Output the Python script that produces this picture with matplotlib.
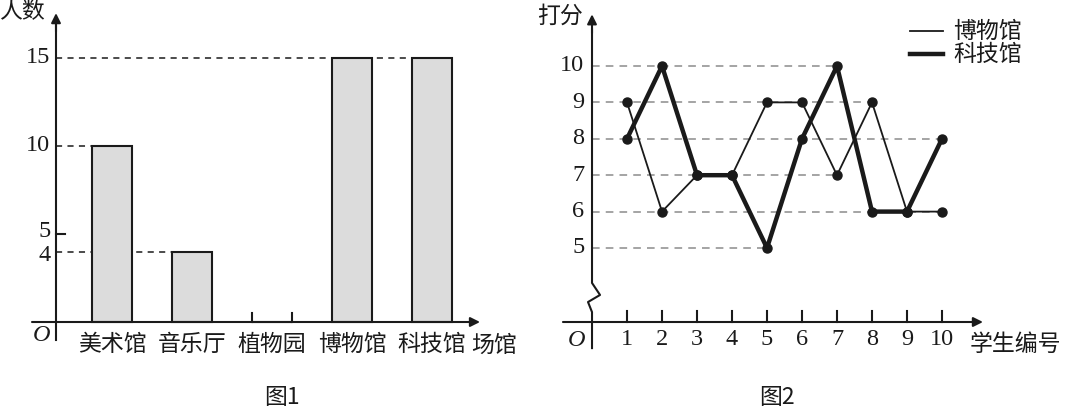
import matplotlib
matplotlib.use("Agg")
import matplotlib.pyplot as plt

plt.rcParams["font.family"] = ["Noto Sans CJK SC", "DejaVu Sans"]

# 图1 data
venues = ["美术馆", "音乐厅", "植物园", "博物馆", "科技馆"]
counts = [10, 4, 0, 15, 15]
count_ticks = [15, 10, 5, 4]

# 图2 data
students = [1, 2, 3, 4, 5, 6, 7, 8, 9, 10]
museum_scores = [9, 6, 7, 7, 9, 9, 7, 9, 6, 6]
tech_scores = [8, 10, 7, 7, 5, 8, 10, 6, 6, 8]
score_ticks = [5, 6, 7, 8, 9, 10]

SERIF = "Liberation Serif"
FS = 16.5      # chinese text
NS = 17.5      # numerals
INK = "#1a1a1a"


def arrow(ax, start, end):
    ax.annotate("", xy=end, xytext=start,
                arrowprops=dict(arrowstyle="-|>", color=INK, lw=1.5,
                                mutation_scale=14, shrinkA=0, shrinkB=0))


fig = plt.figure(figsize=(10.8, 4.09), dpi=100)

# ---------------- 图1 : bar chart ----------------
ax1 = fig.add_axes([0, 0, 0.5, 1])
ax1.set_xlim(-1.4, 5.35)
ax1.set_ylim(-4.943, 18.295)
ax1.axis("off")

bw = 0.5
xs = list(range(len(venues)))
ax1.bar(xs, counts, width=bw, color="#dcdcdc", edgecolor=INK, linewidth=1.5, zorder=3)
# zero-height bar edges (植物园)
for x, c in zip(xs, counts):
    if c == 0:
        ax1.plot([x - bw / 2, x - bw / 2], [0, 0.5], color=INK, lw=1.5)
        ax1.plot([x + bw / 2, x + bw / 2], [0, 0.5], color=INK, lw=1.5)

yax = -0.7
arrow(ax1, (-1.0, 0), (4.6, 0))
ax1.plot([yax, yax], [-1.02, 17.0], color=INK, lw=1.5)
arrow(ax1, (yax, 16.5), (yax, 17.55))

# dashed guide lines to the last bar with that height
for v in sorted(set(c for c in counts if c > 0)):
    last = max(i for i, c in enumerate(counts) if c == v)
    ax1.plot([yax, last - bw / 2], [v, v], color=INK, lw=1.1,
             linestyle=(0, (4, 3.5)), zorder=2)
for v in count_ticks:
    if v not in counts:
        ax1.plot([yax, yax + 0.11], [v, v], color=INK, lw=1.5)

offs = {5: 0.12, 4: -0.2}
for v in count_ticks:
    ax1.text(yax - 0.07, v + offs.get(v, 0), str(v), ha="right", va="center",
             fontsize=NS, family=SERIF, color=INK)

for x, name in zip(xs, venues):
    ax1.text(x, -1.3, name, ha="center", va="center", fontsize=FS, color=INK)
ax1.text(4.78, -1.3, "场馆", ha="center", va="center", fontsize=FS, color=INK)
ax1.text(-0.875, -0.74, "O", ha="center", va="center", fontsize=NS,
         family=SERIF, style="italic", color=INK)
ax1.text(-1.13, 17.62, "人数", ha="center", va="center", fontsize=FS, color=INK)
ax1.text(2.125, -4.3, "图1", ha="center", va="center", fontsize=FS, color=INK)

# ---------------- 图2 : line chart ----------------
ax2 = fig.add_axes([0.5, 0, 0.5, 1])
ax2.set_xlim(-1.486, 13.943)
ax2.set_ylim(0.577, 11.813)
ax2.axis("off")

base = 2.967
arrow(ax2, (-0.83, base), (11.17, base))
# y axis with break
ax2.plot([0, 0, 0.229, -0.114, 0, 0], [11.0, 4.04, 3.71, 3.516, 3.24, 2.25],
         color=INK, lw=1.5)
arrow(ax2, (0, 10.9), (0, 11.42))

for s in students:
    ax2.plot([s, s], [base, 3.27], color=INK, lw=1.5)
    ax2.text(s, 2.5, str(s), ha="center", va="center", fontsize=NS,
             family=SERIF, color=INK)

for v in score_ticks:
    last = max(s for s, a, b in zip(students, museum_scores, tech_scores) if a == v or b == v)
    ax2.plot([0, last], [v, v], color="#8c8c8c", lw=1.1, linestyle=(0, (5, 4)), zorder=1)
    ax2.text(-0.22, v, str(v), ha="right", va="center", fontsize=NS,
             family=SERIF, color=INK)

ax2.plot(students, museum_scores, color=INK, lw=1.3, marker="o", ms=6.5, zorder=3)
ax2.plot(students, tech_scores, color=INK, lw=3.2, marker="o", ms=6.5, zorder=4)

# legend
ax2.plot([9.086, 10.03], [10.96, 10.96], color=INK, lw=1.3)
ax2.plot([9.086, 10.03], [10.33, 10.33], color=INK, lw=3.2)
ax2.text(10.31, 10.96, "博物馆", ha="left", va="center", fontsize=FS, color=INK)
ax2.text(10.31, 10.33, "科技馆", ha="left", va="center", fontsize=FS, color=INK)

ax2.text(-0.43, 2.47, "O", ha="center", va="center", fontsize=NS,
         family=SERIF, style="italic", color=INK)
ax2.text(10.8, 2.36, "学生编号", ha="left", va="center", fontsize=FS, color=INK)
ax2.text(-0.93, 11.38, "打分", ha="center", va="center", fontsize=FS, color=INK)
ax2.text(5.29, 0.9, "图2", ha="center", va="center", fontsize=FS, color=INK)

fig.savefig("out.png", dpi=100)
